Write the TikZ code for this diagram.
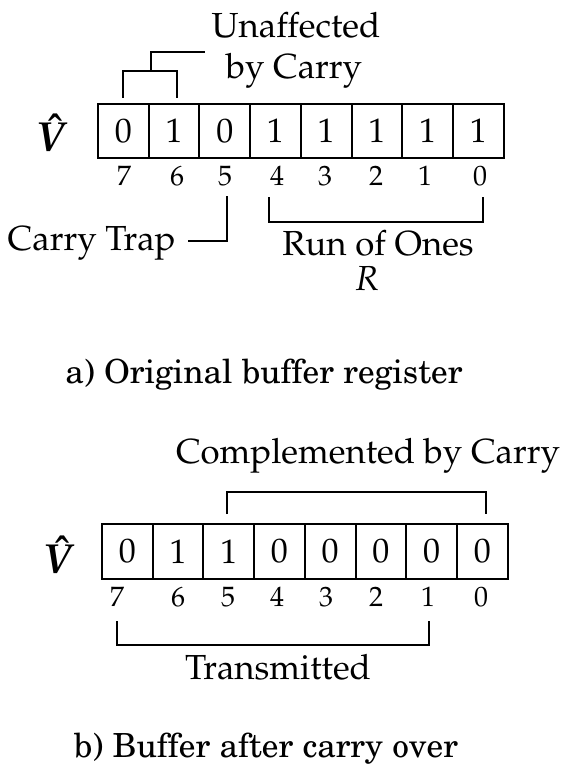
\documentclass[tikz,border=0pt]{standalone}
\usepackage[T1]{fontenc}
\usepackage{mathpazo}
\usepackage{bm}
\begin{document}
\begin{tikzpicture}[x=0.5pt,y=-0.5pt,
  cell/.style={draw,line width=1pt,minimum width=25.35pt,minimum height=27.3pt,
    inner sep=0pt,font=\fontsize{17}{17}\selectfont},
  idx/.style={inner sep=0pt,font=\fontsize{14}{14}\selectfont},
  lbl/.style={inner sep=0pt,anchor=base,font=\fontsize{17.4}{17.4}\selectfont},
  captxt/.style={inner sep=0pt,anchor=base,font=\fontsize{16.6}{16.6}\fontfamily{pnc}\selectfont},
  vhat/.style={inner sep=0pt,anchor=base,font=\fontsize{21}{21}\selectfont},
  br/.style={line width=0.75pt}]
\useasboundingbox (0,0) rectangle (561,765);
\fill[white] (0,0) rectangle (561,765);

% ---------- a) original buffer register ----------
\node[vhat] (va) at (53,151) {$\bm{\hat{V}}$};
\foreach \b/\v [count=\i from 0] in {7/0,6/1,5/0,4/1,3/1,2/1,1/1,0/1}
  \node[cell] (a\b) at (123.35+50.7*\i,131) {\v};
\foreach \b/\x in {7/124,6/177,5/225,4/277,3/325,2/376,1/425,0/480}
  \node[idx] (ia\b) at (\x,176) {\b};

\node[lbl] (unaff) at (296,38) {Unaffected};
\node[lbl] (bycar) at (294,79) {by Carry};
\coordinate (u1) at (123,98);
\coordinate (u2) at (123,71);
\coordinate (u3) at (177,71);
\coordinate (u4) at (177,98);
\coordinate (um) at (151,71);
\coordinate (uk) at (151,52);
\coordinate (ut) at (205,52);
\draw[br] (u1) -- (u2) -- (u3) -- (u4);
\draw[br] (um) -- (uk) -- (ut);

\node[lbl,anchor=base east] (trap) at (176,250) {Carry Trap};
\coordinate (t1) at (227,196);
\coordinate (t2) at (227,241);
\coordinate (t3) at (188,241);
\draw[br] (t1) -- (t2) -- (t3);

\node[lbl] (run) at (378,255) {Run of Ones};
\node[lbl] (rr) at (367,290) {$R$};
\coordinate (r1) at (269,197);
\coordinate (r2) at (269,222);
\coordinate (r3) at (483,222);
\coordinate (r4) at (483,197);
\draw[br] (r1) -- (r2) -- (r3) -- (r4);

\node[captxt] (capa) at (264,383) {a) Original buffer register};

% ---------- b) buffer after carry over ----------
\node[vhat] (vb) at (60,573) {$\bm{\hat{V}}$};
\foreach \b/\v [count=\i from 0] in {7/0,6/1,5/1,4/0,3/0,2/0,1/0,0/0}
  \node[cell] (b\b) at (127.35+50.7*\i,551.5) {\v};
\foreach \b/\x in {7/117,6/178,5/228,4/277,3/326,2/376,1/428,0/481}
  \node[idx] (ib\b) at (\x,597) {\b};

\node[lbl] (compl) at (368,463) {Complemented by Carry};
\coordinate (c1) at (227,514);
\coordinate (c2) at (227,492);
\coordinate (c3) at (486,492);
\coordinate (c4) at (486,514);
\draw[br] (c1) -- (c2) -- (c3) -- (c4);

\node[lbl] (trans) at (278,679) {Transmitted};
\coordinate (x1) at (117,621);
\coordinate (x2) at (117,645);
\coordinate (x3) at (429,645);
\coordinate (x4) at (429,621);
\draw[br] (x1) -- (x2) -- (x3) -- (x4);

\node[captxt] (capb) at (266,757) {b) Buffer after carry over};
\end{tikzpicture}
\end{document}
